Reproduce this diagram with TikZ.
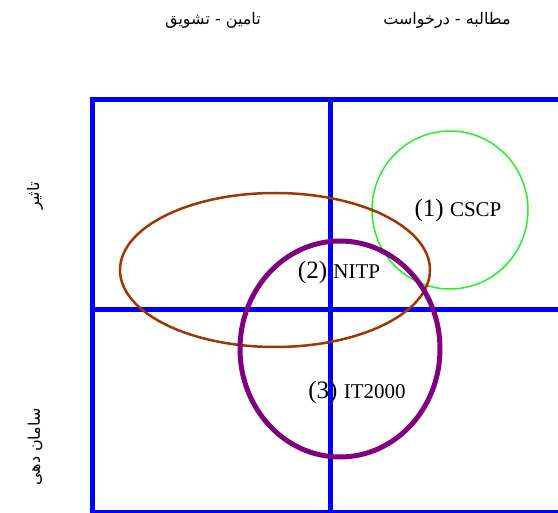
\documentclass[tikz,border=0pt]{standalone}
\usepackage{fontspec}
\setmainfont{Liberation Serif}
\newfontfamily\arabicfont[Script=Arabic]{DejaVu Sans}
\TeXXeTstate=1
\definecolor{gridblue}{RGB}{0,0,255}
\definecolor{cgreen}{RGB}{40,240,40}
\definecolor{cbrown}{RGB}{160,55,0}
\definecolor{cpurple}{RGB}{128,0,128}
\tikzset{
  fa/.style={font=\arabicfont\fontsize{16}{18}\selectfont, inner sep=0pt},
  lbl/.style={font=\fontsize{25}{28}\selectfont, inner sep=0pt},
  gridline/.style={draw=gridblue, line width=5pt},
}
\newcommand{\sm}[1]{{\fontsize{21}{24}\selectfont #1}}
\begin{document}
\begin{tikzpicture}[x=1pt,y=-1pt]
\useasboundingbox (0,0) rectangle (558,513);
\fill[white] (0,0) rectangle (558,513);
\begin{scope}
\clip (0,0) rectangle (558,513);
\draw[gridline] (92,100) rectangle (600,513);
\draw[gridline] (330,100) -- (330,513);
\draw[gridline] (92,310) -- (600,310);
\end{scope}
\draw[cgreen, line width=1.5pt] (450,210) ellipse [x radius=78, y radius=79];
\draw[cbrown, line width=2.5pt] (275,270) ellipse [x radius=155, y radius=77];
\draw[cpurple, line width=5pt] (340,349) ellipse [x radius=100, y radius=108];
\node[lbl] (n1) at (458,210) {(1) \sm{CSCP}};
\node[lbl] (n2) at (339,272) {(2) \sm{NITP}};
\node[lbl] (n3) at (357,392) {(3) \sm{IT2000}};
\node[fa] (t1) at (213,20) {\beginR تامین - تشویق\endR};
\node[fa] (t2) at (447,20) {\beginR مطالبه - درخواست\endR};
\node[fa, rotate=90] (t3) at (35,196) {\beginR تاثیر\endR};
\node[fa, rotate=90] (t4) at (35,447) {\beginR سامان دهی\endR};
\end{tikzpicture}
\end{document}
